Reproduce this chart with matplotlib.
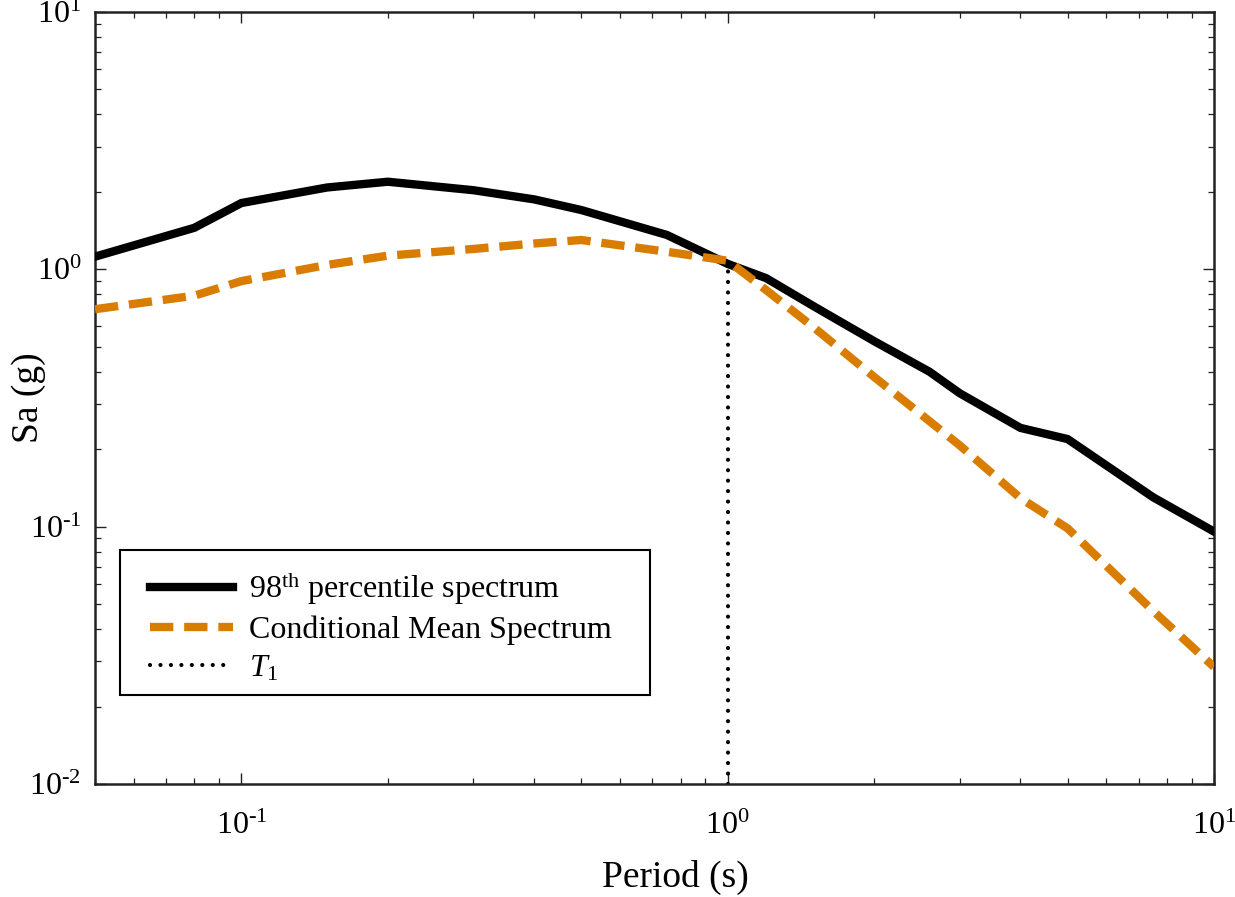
import matplotlib
matplotlib.use("Agg")
import matplotlib.pyplot as plt
from matplotlib.ticker import LogLocator, FuncFormatter, NullFormatter
from matplotlib.patches import Rectangle
import numpy as np

plt.rcParams['font.family'] = ['Liberation Serif', 'DejaVu Serif']
plt.rcParams['mathtext.fontset'] = 'custom'
plt.rcParams['mathtext.rm'] = 'Liberation Serif'
plt.rcParams['mathtext.it'] = 'Liberation Serif:italic'
plt.rcParams['mathtext.bf'] = 'Liberation Serif:bold'

# Data
periods_98 = [0.05, 0.08, 0.1, 0.15, 0.2, 0.3, 0.4, 0.5, 0.75, 1.0, 1.2, 1.5, 2.0, 2.6, 3.0, 4.0, 5.0, 7.5, 10.0]
sa_98 = [1.12, 1.45, 1.81, 2.08, 2.19, 2.03, 1.87, 1.70, 1.36, 1.05, 0.924, 0.72, 0.526, 0.40, 0.33, 0.242, 0.219, 0.130, 0.0957]

periods_cms = [0.05, 0.08, 0.1, 0.15, 0.2, 0.3, 0.4, 0.5, 0.75, 1.0, 1.2, 1.5, 2.0, 2.6, 3.0, 4.0, 5.0, 7.5, 10.0]
sa_cms = [0.70, 0.79, 0.90, 1.04, 1.13, 1.20, 1.26, 1.30, 1.17, 1.08, 0.83, 0.597, 0.382, 0.257, 0.207, 0.129, 0.0985, 0.047, 0.0285]

t1 = 1.0
t1_range = [0.01, 1.06]

labels = ["98$^{\\mathrm{th}}$ percentile spectrum", "Conditional Mean Spectrum", "$\\mathit{T}_{\\mathit{1}}$"]

W, H = 1235, 897
fig = plt.figure(figsize=(W / 100, H / 100), dpi=100)
ax = fig.add_axes([95 / W, 113 / H, (1214 - 95) / W, (784 - 12) / H])

orange = '#D97D00'
ax.plot(periods_98, sa_98, color='black', lw=6.0, solid_joinstyle='miter', label=labels[0], zorder=3)
ax.plot(periods_cms, sa_cms, color=orange, lw=6.0, dashes=(2.8, 1.3), label=labels[1], zorder=4)
ax.plot([t1, t1], t1_range, color='black', lw=3.0, linestyle=(0, (0.01, 2.5)),
        dash_capstyle='round', label=labels[2], zorder=2)

ax.set_xscale('log')
ax.set_yscale('log')
ax.set_xlim(0.05, 10)
ax.set_ylim(0.01, 10)


def fmt(v, pos):
    e = int(round(np.log10(v)))
    if e < 0:
        return '$\\mathdefault{10^{\u2010%d}}$' % (-e)
    return '$\\mathdefault{10^{%d}}$' % e


ax.xaxis.set_major_locator(LogLocator(base=10, numticks=10))
ax.yaxis.set_major_locator(LogLocator(base=10, numticks=10))
ax.xaxis.set_minor_locator(LogLocator(base=10, subs=range(2, 10), numticks=20))
ax.yaxis.set_minor_locator(LogLocator(base=10, subs=range(2, 10), numticks=20))
ax.xaxis.set_major_formatter(FuncFormatter(fmt))
ax.yaxis.set_major_formatter(FuncFormatter(fmt))
ax.xaxis.set_minor_formatter(NullFormatter())
ax.yaxis.set_minor_formatter(NullFormatter())

ax.tick_params(which='both', direction='in', top=True, right=True, colors='#222222', labelcolor='black')
ax.tick_params(which='major', length=8, width=1.0, labelsize=23)
ax.tick_params(which='minor', length=4.5, width=0.9)
ax.tick_params(axis='x', which='major', pad=20)
ax.tick_params(axis='y', which='major', pad=10)

for s in ax.spines.values():
    s.set_linewidth(1.8)
    s.set_color('#222222')

ax.set_xlabel('Period (s)', fontsize=27)
ax.set_ylabel('Sa (g)', fontsize=27)
ax.xaxis.set_label_coords((675 - 95) / 1119, -0.098)
ax.yaxis.set_label_coords((46 - 95) / 1119, 0.5)

# legend entries (no frame); frame drawn separately to match reference padding
leg = ax.legend(loc='upper left', bbox_to_anchor=((150 - 95) / 1119, (784 - 570) / 772),
                fontsize=23, frameon=False,
                handlelength=2.6, handletextpad=0.5, borderpad=0.0, labelspacing=0.27,
                borderaxespad=0.0)
frame = Rectangle((120 / W, (H - 695) / H), (650 - 120) / W, (695 - 550) / H,
                  transform=fig.transFigure, facecolor='white', edgecolor='black',
                  lw=1.5, zorder=1)
fig.patches.append(frame)
ax.set_zorder(2)
ax.patch.set_alpha(0)
bg = Rectangle((95 / W, 113 / H), (1214 - 95) / W, (784 - 12) / H, transform=fig.transFigure,
               facecolor='white', edgecolor='none', zorder=0)
fig.patches.insert(0, bg)

fig.savefig('out.png', dpi=100, facecolor='white')
